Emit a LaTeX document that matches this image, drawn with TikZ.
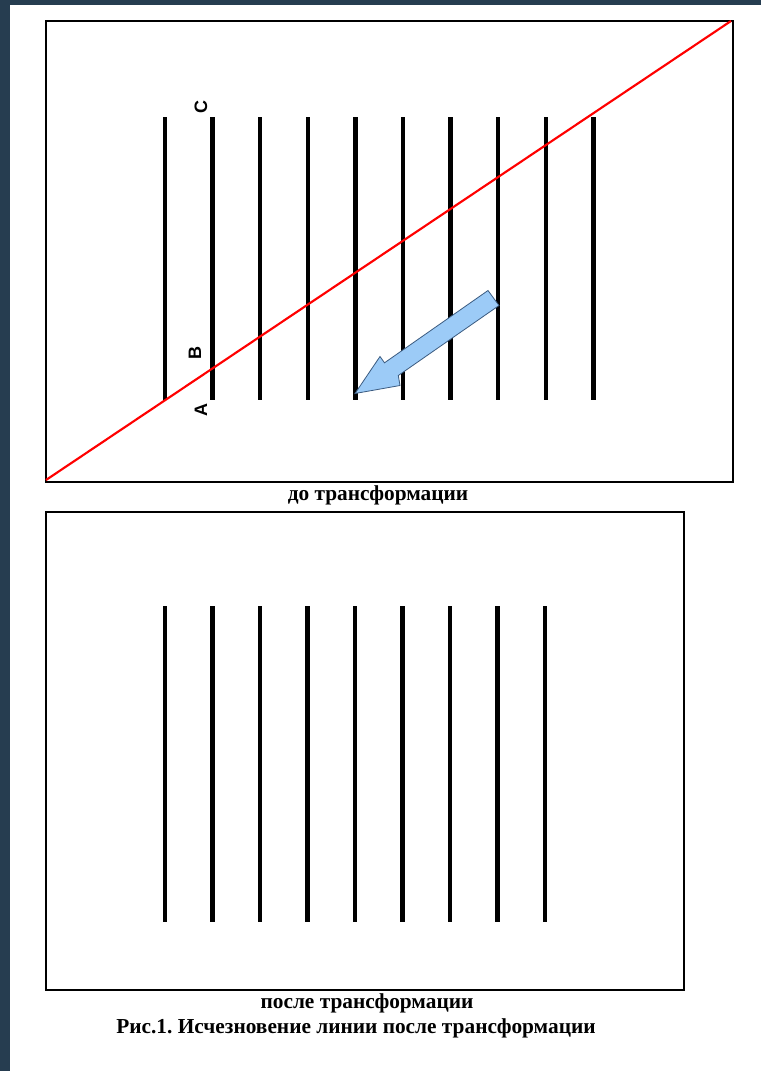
\documentclass[tikz,border=0pt]{standalone}
\usepackage{fontspec}
\setmainfont{Liberation Serif}
\newfontfamily\lblfont{Liberation Sans}
\definecolor{band}{HTML}{263D50}
\definecolor{arrowfill}{HTML}{9CCBF7}
\definecolor{arrowline}{HTML}{3B5B80}
\frenchspacing
\begin{document}
\begin{tikzpicture}[x=0.75pt,y=-0.75pt,
  frame/.style={draw=black,line width=0.9pt},
  bar/.style={line width=3.2pt,black},
  redline/.style={red,line width=1.6pt},
  letter/.style={font=\lblfont\bfseries\fontsize{13.5}{13.5}\selectfont,rotate=90,inner sep=0pt},
  caption/.style={font=\bfseries\fontsize{16}{18}\selectfont,inner sep=0pt}]
\useasboundingbox (0,0) rectangle (761,1071);
\fill[white] (0,0) rectangle (761,1071);
\fill[band] (0,0) rectangle (761,5);
\fill[band] (0,0) rectangle (10,1071);
% top frame
\draw[frame] (46,21) rectangle (733,482);
\foreach \i in {0,...,9}{
  \coordinate (t\i a) at ({165+47.6*\i},117);
  \coordinate (t\i b) at ({165+47.6*\i},400);
  \draw[bar] (t\i a) -- (t\i b);
}
\coordinate (rs) at (46,480);
\coordinate (re) at (731,21);
\draw[redline] (rs) -- (re);
\node[letter] (C) at (201,107) {C};
\node[letter] (B) at (195,353) {B};
\node[letter] (A) at (201,410) {A};
% block arrow
\draw[fill=arrowfill,draw=arrowline,line width=0.6pt,line join=miter]
  (488,290.5) -- (499,305.5) -- (398.3,375.5) -- (400,385.5) -- (355,393.5)
  -- (380,356.5) -- (384.5,362.8) -- cycle;
\node[caption] (cap1) at (378,495) {до трансформации};
% bottom frame
\draw[frame] (46,512) rectangle (684,990);
\foreach \i in {0,...,8}{
  \coordinate (u\i a) at ({165+47.5*\i},606);
  \coordinate (u\i b) at ({165+47.5*\i},922);
  \draw[bar] (u\i a) -- (u\i b);
}
\node[caption] (cap2) at (367,1003) {после трансформации};
\node[caption] (cap3) at (356,1028) {Рис.1. Исчезновение линии после трансформации};
\end{tikzpicture}
\end{document}
